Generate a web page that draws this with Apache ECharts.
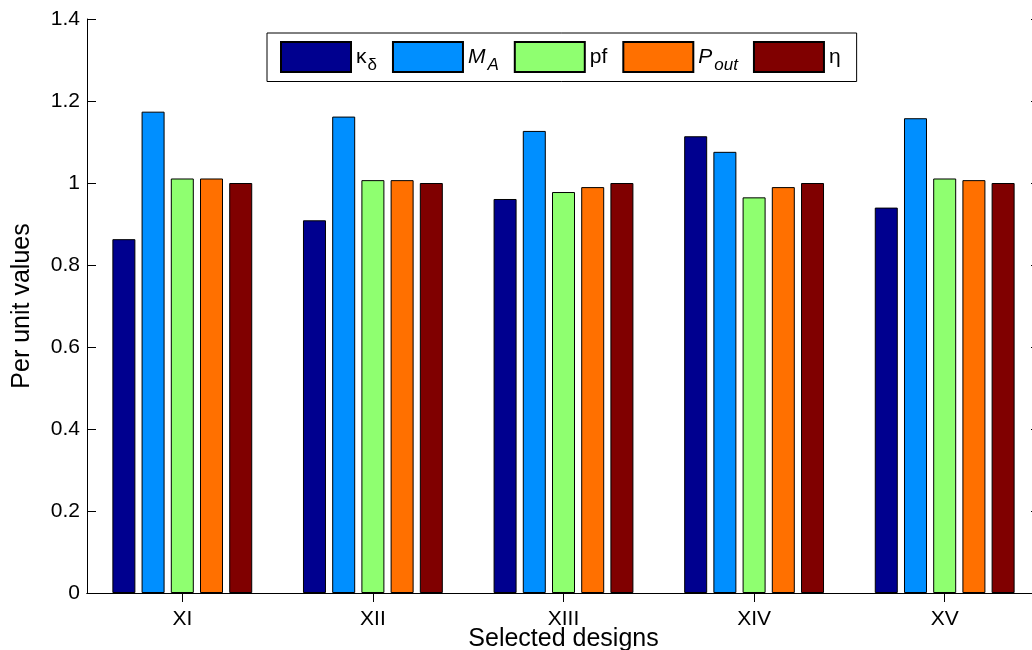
<!DOCTYPE html>
<html>
<head>
<meta charset="utf-8">
<script src="https://cdn.jsdelivr.net/npm/echarts@6/dist/echarts.min.js"></script>
<style>html,body{margin:0;padding:0;background:#fff;}#main{width:1032px;height:650px;}</style>
</head>
<body>
<div id="main"></div>
<script>
const categories = ['XI', 'XII', 'XIII', 'XIV', 'XV'];
const seriesNames = ['κδ', 'MA', 'pf', 'Pout', 'η'];
const kappa = [0.863, 0.909, 0.961, 1.114, 0.940];
const MA = [1.174, 1.162, 1.127, 1.076, 1.158];
const pf = [1.011, 1.007, 0.978, 0.965, 1.011];
const Pout = [1.011, 1.007, 0.990, 0.990, 1.007];
const eta = [1.000, 1.000, 1.000, 1.000, 1.000];
const yTicks = [0, 0.2, 0.4, 0.6, 0.8, 1, 1.2, 1.4];

const colors = ['#00008F', '#008FFF', '#8FFF70', '#FF7000', '#800000'];
const values = [kappa, MA, pf, Pout, eta];
const FONT = 'Liberation Sans, Arial, Helvetica, sans-serif';

const legendRich = {
  n: { fontSize: 21, fontFamily: FONT, color: '#000' },
  i: { fontSize: 21, fontFamily: FONT, fontStyle: 'italic', color: '#000' },
  s: { fontSize: 17, fontFamily: FONT, color: '#000', padding: [16, 0, 0, 1] },
  si: { fontSize: 17, fontFamily: FONT, fontStyle: 'italic', color: '#000', padding: [16, 2, 0, 2] }
};
const legendFmt = {
  'κδ': '{n|κ}{s|δ}',
  'MA': '{i|M}{si|A}',
  'pf': '{n|pf}',
  'Pout': '{i|P}{si|out}',
  'η': '{n|η}'
};

const chart = echarts.init(document.getElementById('main'), null, { renderer: 'canvas' });
const axisLine = { show: true, lineStyle: { color: '#000', width: 1 } };
const tick = { show: true, inside: true, length: 9, lineStyle: { color: '#000', width: 1 } };

chart.setOption({
  animation: false,
  backgroundColor: '#fff',
  textStyle: { fontFamily: FONT },
  grid: { left: 87, right: -8, top: 19, bottom: 57, containLabel: false, outerBoundsMode: 'none' },
  legend: {
    data: seriesNames,
    left: 267, top: 33,
    orient: 'horizontal',
    itemWidth: 70, itemHeight: 30, itemGap: 15,
    padding: [8, 16, 8, 13],
    borderColor: '#000', borderWidth: 1, backgroundColor: '#fff',
    icon: 'rect',
    formatter: function (name) { return legendFmt[name]; },
    textStyle: { rich: legendRich, fontSize: 21, color: '#000' }
  },
  xAxis: [
    {
      type: 'category', data: categories, position: 'bottom',
      axisLine: axisLine, axisTick: Object.assign({ alignWithLabel: true }, tick),
      axisLabel: { color: '#000', fontSize: 21, margin: 16, fontFamily: FONT },
      name: 'Selected designs', nameLocation: 'middle', nameGap: 34, nameMoveOverlap: false,
      nameTextStyle: { color: '#000', fontSize: 25, fontFamily: FONT },
      splitLine: { show: false }
    },
    {
      type: 'category', data: categories, position: 'top',
      axisLine: axisLine, axisTick: Object.assign({ alignWithLabel: true }, tick),
      axisLabel: { show: false }, splitLine: { show: false }
    }
  ],
  yAxis: [
    {
      type: 'value', min: 0, max: 1.4, interval: 0.2, position: 'left',
      axisLine: axisLine, axisTick: tick,
      axisLabel: {
        color: '#000', fontSize: 21, margin: 7, fontFamily: FONT,
        formatter: function (v) {
          const t = yTicks.find(function (x) { return Math.abs(x - v) < 1e-9; });
          return t === undefined ? '' : String(t);
        }
      },
      splitLine: { show: false },
      name: 'Per unit values', nameLocation: 'middle', nameGap: 52,
      nameTextStyle: { color: '#000', fontSize: 25, fontFamily: FONT }
    },
    {
      type: 'value', min: 0, max: 1.4, interval: 0.2, position: 'right',
      axisLine: axisLine, axisTick: tick, axisLabel: { show: false },
      splitLine: { show: false }
    }
  ],
  series: seriesNames.map(function (name, k) {
    return {
      name: name, type: 'bar', xAxisIndex: 0, yAxisIndex: 0,
      data: values[k], barWidth: 23, barGap: '27%',
      itemStyle: { color: colors[k], borderColor: '#000', borderWidth: 1 },
      emphasis: { disabled: true }
    };
  })
});
</script>
</body>
</html>
